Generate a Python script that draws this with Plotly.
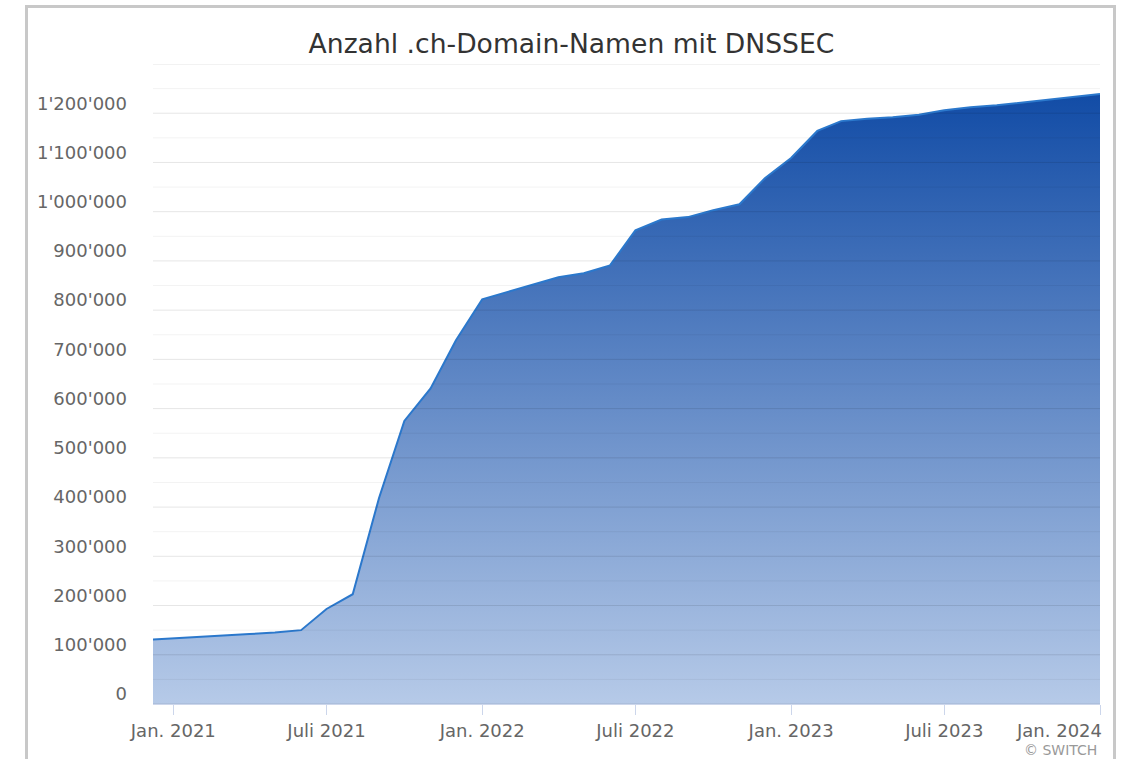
import plotly.graph_objects as go

dates = ["2020-12-08", "2021-01-01", "2021-02-01", "2021-03-01", "2021-04-01", "2021-05-01",
         "2021-06-01", "2021-07-01", "2021-08-01", "2021-09-01", "2021-10-01", "2021-11-01",
         "2021-12-01", "2022-01-01", "2022-02-01", "2022-03-01", "2022-04-01", "2022-05-01",
         "2022-06-01", "2022-07-01", "2022-08-01", "2022-09-01", "2022-10-01", "2022-11-01",
         "2022-12-01", "2023-01-01", "2023-02-01", "2023-03-01", "2023-04-01", "2023-05-01",
         "2023-06-01", "2023-07-01", "2023-08-01", "2023-09-01", "2023-10-01", "2023-11-01",
         "2023-12-01", "2024-01-01"]
domains = [131000, 133000, 136000, 139000, 142000, 145000,
           150000, 193000, 223000, 418000, 575000, 641000,
           739000, 822000, 838000, 851000, 867000, 875000,
           891000, 962000, 984000, 989000, 1003000, 1015000,
           1068000, 1109000, 1164000, 1184000, 1189000, 1192000,
           1197000, 1206000, 1212000, 1216000, 1222000, 1228000,
           1233000, 1239000]

x_tickvals = ["2021-01-01", "2021-07-01", "2022-01-01", "2022-07-01", "2023-01-01", "2023-07-01", "2024-01-01"]
x_ticktext = ["Jan. 2021", "Juli 2021", "Jan. 2022", "Juli 2022", "Jan. 2023", "Juli 2023", "Jan. 2024"]
y_tickvals = [0, 100000, 200000, 300000, 400000, 500000, 600000, 700000, 800000, 900000,
              1000000, 1100000, 1200000]
y_ticktext = ["0", "100'000", "200'000", "300'000", "400'000", "500'000", "600'000", "700'000",
              "800'000", "900'000", "1'000'000", "1'100'000", "1'200'000"]
y_max = 1300000
grid_step = 50000
x_start, x_end = "2020-12-08", "2024-01-01"

FONT = "DejaVu Sans"

L, T = 153, 64
pw, ph = 947, 640
W, H = 1122, 759
R, B = W - L - pw, H - T - ph


def px(xs):
    return (xs - L) / pw


def py(ys):
    return (T + ph - ys) / ph


fig = go.Figure()
fig.add_trace(go.Scatter(
    x=dates, y=domains, mode="lines",
    line=dict(color="#2b78cc", width=2),
    fill="tozeroy",
    fillgradient=dict(type="vertical",
                      colorscale=[[0, "rgb(182,202,232)"], [1, "rgb(18,76,166)"]]),
    hoverinfo="x+y", showlegend=False,
))

shapes = []
v = 0
while v <= y_max:
    major = (v % 100000 == 0)
    shapes.append(dict(type="line", xref="paper", yref="y", x0=0, x1=1, y0=v, y1=v,
                       layer="above",
                       line=dict(color="rgba(0,0,0,0.10)" if major else "rgba(0,0,0,0.05)", width=1)))
    v += grid_step
# outer frame
shapes.append(dict(type="rect", xref="paper", yref="paper",
                   x0=px(26.5), x1=px(1114.5), y0=py(790), y1=py(6.5),
                   line=dict(color="#c8c8c8", width=3), layer="below"))

fig.update_layout(
    width=W, height=H,
    margin=dict(l=L, r=R, t=T, b=B),
    paper_bgcolor="white", plot_bgcolor="white",
    title=dict(text="Anzahl .ch-Domain-Namen mit DNSSEC",
               x=571.5 / W, xanchor="center",
               y=1 - 44 / H, yanchor="middle",
               font=dict(family=FONT, size=26.6, color="#333333")),
    font=dict(family=FONT, color="#666666"),
    shapes=shapes,
    xaxis=dict(type="date", range=[x_start, x_end],
               tickvals=x_tickvals, ticktext=x_ticktext[:-1] + [""],
               showgrid=False, zeroline=False,
               showline=True, linecolor="#ccd6eb", linewidth=1,
               ticks="outside", ticklen=10, tickcolor="#ccd6eb",
               tickfont=dict(family=FONT, size=18, color="#666666")),
    yaxis=dict(range=[0, y_max], tickvals=y_tickvals, ticktext=y_ticktext,
               showgrid=False, zeroline=False, showline=False, ticks="",
               ticklabelshift=-10, ticklabelstandoff=25,
               tickfont=dict(family=FONT, size=18, color="#666666")),
    annotations=[
        dict(text=x_ticktext[-1], xref="x", yref="paper", x=x_tickvals[-1], y=py(730),
             xanchor="right", yanchor="middle", xshift=4, showarrow=False,
             font=dict(family=FONT, size=18, color="#666666")),
        dict(text="© SWITCH", xref="paper", yref="paper", x=px(1099), y=py(750),
             xanchor="right", yanchor="middle", showarrow=False,
             font=dict(family=FONT, size=14, color="#999999")),
    ],
)

fig.write_html("out.html", config={"displayModeBar": False},
               post_script="document.body.style.margin='0px';")
